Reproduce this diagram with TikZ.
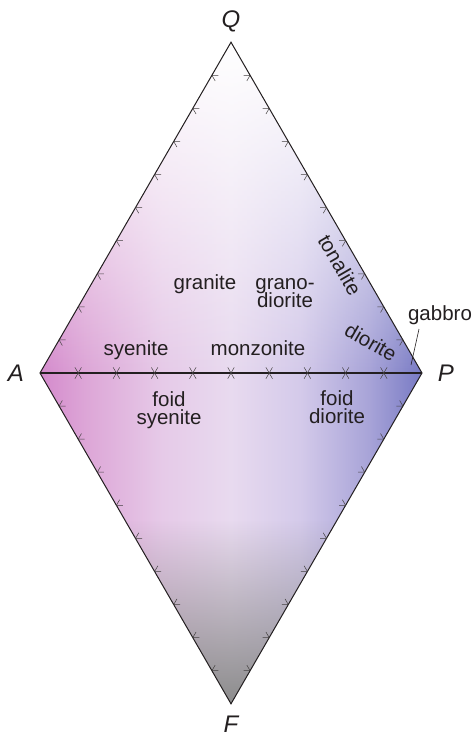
\documentclass[tikz,border=0pt]{standalone}
\usepackage{fontspec}
\setmainfont{Liberation Sans}
\usetikzlibrary{calc,fadings}
\definecolor{cA}{RGB}{212,138,204}
\definecolor{cAa}{RGB}{221,166,215}
\definecolor{cAb}{RGB}{230,202,232}
\definecolor{cM}{RGB}{232,218,239}
\definecolor{cPb}{RGB}{212,202,234}
\definecolor{cPa}{RGB}{168,164,216}
\definecolor{cP}{RGB}{120,122,196}
\definecolor{cF}{RGB}{140,140,140}
\definecolor{txt}{RGB}{35,31,32}
\pgfdeclarehorizontalshading{qapfh}{100bp}{color(0bp)=(cA); color(25bp)=(cA); color(31bp)=(cAa); color(41bp)=(cAb); color(50bp)=(cM); color(59bp)=(cPb); color(68bp)=(cPa); color(75bp)=(cP); color(100bp)=(cP)}
\tikzfading[name=topfade, top color=transparent!0, bottom color=transparent!100]
\tikzfading[name=botfade, top color=transparent!100, middle color=transparent!84, bottom color=transparent!0]
\lineskiplimit=-100pt\relax
\tikzset{
  lab/.style={font=\fontsize{20.5}{18}\selectfont, text=txt, inner sep=0pt, align=center},
  vtx/.style={font=\fontsize{24}{24}\selectfont\itshape, text=txt, inner sep=0pt},
  edge/.style={draw=txt, line width=1pt},
  axis/.style={draw=txt, line width=1.3pt},
  tickmark/.style={draw=txt!85, line width=0.5pt},
  leader/.style={draw=txt, line width=0.6pt}
}
\begin{document}
\begin{tikzpicture}[x=1pt,y=-1pt]
\useasboundingbox (0,0) rectangle (474,737);
\fill[white] (0,0) rectangle (474,737);
\coordinate (Q) at (231,42.2);
\coordinate (A) at (40,373);
\coordinate (P) at (422,373);
\coordinate (F) at (231,703.8);
% colour fill
\begin{scope}
  \clip (Q) -- (P) -- (F) -- (A) -- cycle;
  \shade[shading=qapfh] (40,42) rectangle (422,704);
  \fill[white, path fading=topfade] (40,42) rectangle (422,373);
  \fill[cF, path fading=botfade] (40,520) rectangle (422,704);
\end{scope}
% outline
\draw[edge] (Q) -- (P) -- (F) -- (A) -- cycle;
\draw[axis] (A) -- (P);
% ticks
\foreach \k in {1,...,9} {
  \coordinate (t1) at ($(A)!\k/10!(Q)$);
  \draw[tickmark] ($(t1)+(6.5,0)$) -- (t1) -- ($(t1)+(3.25,5.63)$);
  \coordinate (t2) at ($(P)!\k/10!(Q)$);
  \draw[tickmark] ($(t2)+(-6.5,0)$) -- (t2) -- ($(t2)+(-3.25,5.63)$);
  \coordinate (t3) at ($(A)!\k/10!(F)$);
  \draw[tickmark] ($(t3)+(6.5,0)$) -- (t3) -- ($(t3)+(3.25,-5.63)$);
  \coordinate (t4) at ($(P)!\k/10!(F)$);
  \draw[tickmark] ($(t4)+(-6.5,0)$) -- (t4) -- ($(t4)+(-3.25,-5.63)$);
  \coordinate (t5) at ($(A)!\k/10!(P)$);
  \draw[tickmark] ($(t5)+(-3.25,-5.63)$) -- ($(t5)+(3.25,5.63)$);
  \draw[tickmark] ($(t5)+(3.25,-5.63)$) -- ($(t5)+(-3.25,5.63)$);
}
% vertex labels
\node[vtx] (lQ) at (231,21) {Q};
\node[vtx] (lA) at (16,373) {A};
\node[vtx] (lP) at (446,373) {P};
\node[vtx] (lF) at (231,724) {F};
% field labels
\node[lab, anchor=base] (granite) at (205,289) {granite};
\node[lab] (granodiorite) at (285,292.7) {grano-\\diorite};
\node[lab, anchor=base] (syenite) at (136,355) {syenite};
\node[lab, anchor=base] (monzonite) at (258,355) {monzonite};
\node[lab] (foidsyenite) at (169,409.7) {foid\\syenite};
\node[lab] (foiddiorite) at (337,407.5) {foid\\diorite};
\node[lab, rotate=-60] (tonalite) at (340,265) {tonalite};
\node[lab, rotate=-30] (diorite) at (371,342) {diorite};
\node[lab, anchor=base] (gabbro) at (440,320) {gabbro};
\coordinate (g1) at (419,329);
\coordinate (g2) at (411,365);
\draw[leader] (g1) -- (g2);
\end{tikzpicture}
\end{document}
